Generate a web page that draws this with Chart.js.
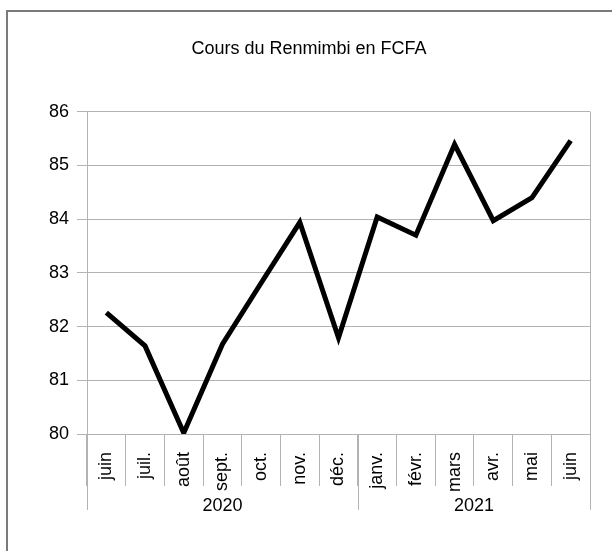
<!DOCTYPE html>
<html>
<head>
<meta charset="utf-8">
<script src="https://cdn.jsdelivr.net/npm/chart.js@4/dist/chart.umd.min.js"></script>
<style>
  body { margin: 0; background: #fff; }
  #wrap { position: relative; width: 612px; height: 551px; }
  #frame { position: absolute; left: 6px; top: 10px; right: 0; bottom: 0;
           border-left: 2px solid #7a7a7a; border-top: 2px solid #7a7a7a; pointer-events: none; }
</style>
</head>
<body>
<div id="wrap">
  <canvas id="chart" width="612" height="551"></canvas>
  <div id="frame"></div>
</div>
<script>
const months = ["juin", "juil.", "août", "sept.", "oct.", "nov.", "déc.",
                "janv.", "févr.", "mars", "avr.", "mai", "juin"];
const rates = [82.26, 81.64, 80.02, 81.67, 82.81, 83.94, 81.79,
               84.04, 83.70, 85.39, 83.97, 84.40, 85.46];
const years = ["2020", "2021"];
const monthsPerYear = [7, 6];
const yTicks = [80, 81, 82, 83, 84, 85, 86];

const font = { family: "'Liberation Sans', Arial, sans-serif", size: 18 };
const gridGray = "#b3b3b3";

// year row under the month labels + right frame of the plot
const yearGroups = {
    id: "yearGroups",
    afterDraw(chart) {
        const ctx = chart.ctx;
        const x = chart.scales.x;
        const area = chart.chartArea;
        const half = (x.getPixelForValue(1) - x.getPixelForValue(0)) / 2;
        const lineBottom = area.bottom + 76;

        ctx.save();
        ctx.strokeStyle = gridGray;
        ctx.lineWidth = 1;

        // right edge of plot
        ctx.beginPath();
        ctx.moveTo(Math.round(area.right) + 0.5, area.top);
        ctx.lineTo(Math.round(area.right) + 0.5, lineBottom);
        ctx.stroke();

        let start = 0;
        ctx.fillStyle = "#000";
        ctx.font = font.size + "px " + font.family;
        ctx.textAlign = "center";
        ctx.textBaseline = "middle";
        years.forEach((yr, i) => {
            const end = start + monthsPerYear[i];
            const x0 = x.getPixelForValue(start) - half;
            const x1 = x.getPixelForValue(end - 1) + half;
            ctx.beginPath();
            ctx.moveTo(Math.round(x0) + 0.5, area.bottom);
            ctx.lineTo(Math.round(x0) + 0.5, lineBottom);
            ctx.stroke();
            ctx.fillText(yr, (x0 + x1) / 2, area.bottom + 72);
            start = end;
        });
        ctx.restore();
    }
};

new Chart(document.getElementById("chart"), {
    type: "line",
    data: {
        labels: months,
        datasets: [{
            data: rates,
            borderColor: "#000",
            borderWidth: 5,
            tension: 0,
            pointRadius: 0,
            fill: false
        }]
    },
    options: {
        responsive: false,
        animation: false,
        layout: { padding: { left: 28, right: 22, top: 0, bottom: 0 } },
        plugins: {
            legend: { display: false },
            tooltip: { enabled: false },
            title: {
                display: true,
                text: "Cours du Renmimbi en FCFA",
                color: "#000",
                font: { family: font.family, size: 18, weight: "normal" },
                padding: { top: 38, bottom: 52 }
            }
        },
        scales: {
            x: {
                offset: true,
                grid: {
                    offset: true,
                    drawOnChartArea: false,
                    color: gridGray,
                    tickLength: 52
                },
                border: { display: true, color: gridGray },
                ticks: {
                    color: "#000",
                    font: font,
                    minRotation: 90,
                    maxRotation: 90,
                    autoSkip: false,
                    padding: -34
                },
                afterFit(scale) { scale.height = 117; }
            },
            y: {
                min: 80,
                max: 86,
                grid: { color: gridGray, tickLength: 10 },
                border: { display: true, color: gridGray },
                afterBuildTicks(scale) { scale.ticks = yTicks.map(v => ({ value: v })); },
                ticks: { color: "#000", font: font, padding: 8 },
                afterFit(scale) { scale.width = 59; }
            }
        }
    },
    plugins: [yearGroups]
});
</script>
</body>
</html>
